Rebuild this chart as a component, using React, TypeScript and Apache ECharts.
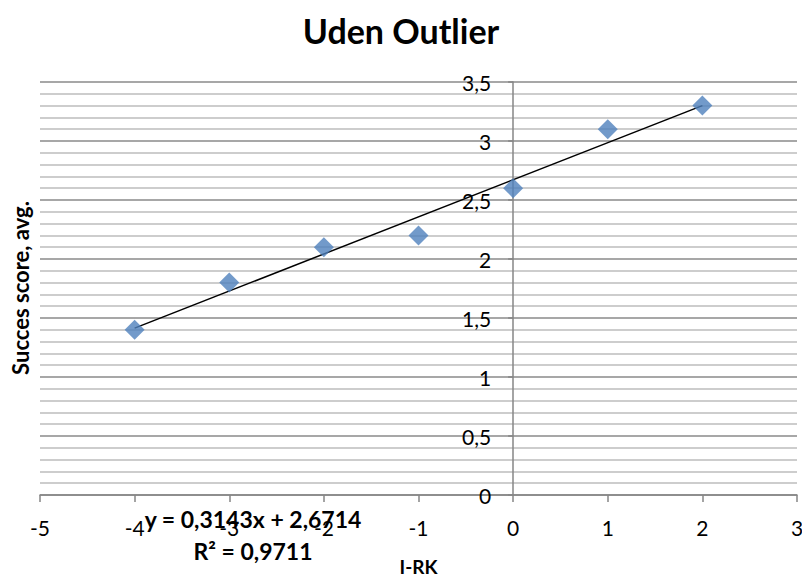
import React, { useEffect, useRef } from "react";
import * as echarts from "echarts";

const xValues = [-4, -3, -2, -1, 0, 1, 2];
const yValues = [1.4, 1.8, 2.1, 2.2, 2.6, 3.1, 3.3];
const slope = 0.3143;
const intercept = 2.6714;
const trendX = [-4, 2];
const titleText = "Uden Outlier";
const xName = "I-RK";
const yName = "Succes score, avg.";
const eqText = "y = 0,3143x + 2,6714";
const r2Text = "R² = 0,9711";

const FONT = "Lato, 'Open Sans', sans-serif";
const fmt = (v: number) => String(v).replace(".", ",");

const W = 802;
const H = 579;
const GRID = { left: 40, right: 5, top: 82, bottom: 84 };
const X_MIN = -5;
const X_MAX = 3;

export default function App() {
  const ref = useRef<HTMLDivElement>(null);
  useEffect(() => {
    document.body.style.margin = "0";
    if (!ref.current) return;
    const chart = echarts.init(ref.current, null, { renderer: "svg" });
    const plotW = W - GRID.left - GRID.right;
    const zeroOffset = ((0 - X_MIN) / (X_MAX - X_MIN)) * plotW;
    chart.setOption({
      animation: false,
      backgroundColor: "#ffffff",
      title: {
        text: titleText,
        left: "center",
        top: 8,
        textStyle: { fontFamily: FONT, fontSize: 34, fontWeight: "bold", color: "#000" },
      },
      grid: { ...GRID, outerBoundsMode: "none", containLabel: false },
      xAxis: {
        type: "value",
        min: X_MIN,
        max: X_MAX,
        interval: 1,
        name: xName,
        nameLocation: "middle",
        nameGap: 62,
        nameTextStyle: { fontFamily: FONT, fontSize: 19, fontWeight: "bold", color: "#000" },
        axisLine: { onZero: true, lineStyle: { color: "#868686", width: 1.5 } },
        axisTick: { show: true, length: 7, lineStyle: { color: "#868686", width: 1.5 } },
        axisLabel: { fontFamily: FONT, fontSize: 21, color: "#000", margin: 22, formatter: fmt },
        splitLine: { show: false },
      },
      yAxis: {
        type: "value",
        min: 0,
        max: 3.5,
        interval: 0.5,
        offset: -zeroOffset,
        axisLine: { show: true, onZero: false, lineStyle: { color: "#868686", width: 1.5 } },
        axisTick: { show: true, length: 5, lineStyle: { color: "#868686", width: 1.5 } },
        axisLabel: { fontFamily: FONT, fontSize: 21, color: "#000", margin: 22, formatter: fmt },
        splitLine: { show: true, lineStyle: { color: "#8a8a8a", width: 1.5 } },
        minorTick: { show: false, splitNumber: 5 },
        minorSplitLine: { show: true, lineStyle: { color: "#bcbcbc", width: 1.5 } },
      },
      series: [
        {
          type: "line",
          data: trendX.map((x) => [x, slope * x + intercept]),
          symbol: "none",
          lineStyle: { color: "#000", width: 1.5 },
          z: 2,
        },
        {
          type: "scatter",
          data: xValues.map((x, i) => [x, yValues[i]]),
          symbol: "diamond",
          symbolSize: 20,
          itemStyle: { color: "#4F81BD" },
          z: 3,
        },
      ],
      graphic: [
        {
          type: "text",
          x: 20,
          y: 288,
          rotation: Math.PI / 2,
          style: { text: yName, fontFamily: FONT, fontSize: 22, fontWeight: "bold", fill: "#000", align: "center", verticalAlign: "middle" },
        },
        {
          type: "text",
          x: 253,
          y: 519,
          style: { text: eqText, fontFamily: FONT, fontSize: 23, fontWeight: "bold", fill: "#000", align: "center", verticalAlign: "middle" },
          z: 10,
        },
        {
          type: "text",
          x: 253,
          y: 551,
          style: { text: r2Text, fontFamily: FONT, fontSize: 23, fontWeight: "bold", fill: "#000", align: "center", verticalAlign: "middle" },
          z: 10,
        },
      ],
    });
    return () => chart.dispose();
  }, []);
  return <div ref={ref} style={{ width: W, height: H }} />;
}
